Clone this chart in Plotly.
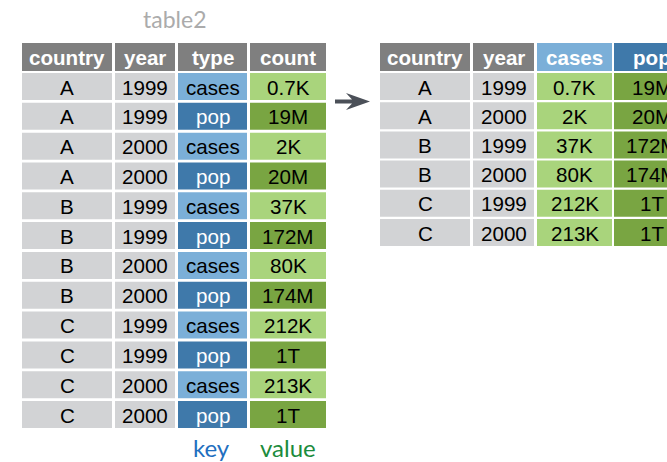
import plotly.graph_objects as go

# ---- data ----
left_headers = ["country", "year", "type", "count"]
left_country = ["A", "A", "A", "A", "B", "B", "B", "B", "C", "C", "C", "C"]
left_year = ["1999", "1999", "2000", "2000", "1999", "1999", "2000", "2000", "1999", "1999", "2000", "2000"]
left_type = ["cases", "pop", "cases", "pop", "cases", "pop", "cases", "pop", "cases", "pop", "cases", "pop"]
left_count = ["0.7K", "19M", "2K", "20M", "37K", "172M", "80K", "174M", "212K", "1T", "213K", "1T"]

right_headers = ["country", "year", "cases", "pop"]
right_country = ["A", "A", "B", "B", "C", "C"]
right_year = ["1999", "2000", "1999", "2000", "1999", "2000"]
right_cases = ["0.7K", "2K", "37K", "80K", "212K", "213K"]
right_pop = ["19M", "20M", "172M", "174M", "1T", "1T"]

# ---- style / layout ----
W, H = 667, 462
GRAY_HDR = "#7f7f7f"
GRAY_CELL = "#d2d3d5"
BLUE_L = "#7bafd8"
BLUE_D = "#3f79aa"
GREEN_L = "#a9d47c"
GREEN_D = "#79a542"
CELL_FONT = "Liberation Sans, Arial, sans-serif"
FS = 20.6

left_cols = [(22, 112), (115, 175), (178, 247), (250, 326)]
right_cols = [(380, 470), (473, 534), (537, 612), (614, 690)]
TOP = 43
HDR_H = 28

shapes = []
annotations = []


def cell(x0, x1, y0, y1, fill, text, color="black", bold=False):
    shapes.append(dict(type="rect", xref="x", yref="y", x0=x0, x1=x1, y0=y0, y1=y1,
                       fillcolor=fill, line=dict(width=0), layer="below"))
    annotations.append(dict(x=(x0 + x1) / 2, y=(y0 + y1) / 2 + 0.5, xref="x", yref="y",
                            text=f"<b>{text}</b>" if bold else text, showarrow=False,
                            font=dict(family=CELL_FONT, size=FS, color=color),
                            xanchor="center", yanchor="middle"))


def table(cols, headers, hdr_fills, columns, fills_fn, colors_fn, pitch, cell_h):
    for j, (x0, x1) in enumerate(cols):
        cell(x0, x1, TOP, TOP + HDR_H, hdr_fills[j], headers[j], "white", True)
    nrows = len(columns[0])
    for i in range(nrows):
        y0 = TOP + 30 + i * pitch
        for j, (x0, x1) in enumerate(cols):
            cell(x0, x1, y0, y0 + cell_h, fills_fn(i, j), columns[j][i], colors_fn(i, j))


def left_fill(i, j):
    if j < 2:
        return GRAY_CELL
    pop = left_type[i] == "pop"
    if j == 2:
        return BLUE_D if pop else BLUE_L
    return GREEN_D if pop else GREEN_L


def left_color(i, j):
    return "white" if (j == 2 and left_type[i] == "pop") else "black"


table(left_cols, left_headers, [GRAY_HDR, GRAY_HDR, GRAY_HDR, GRAY_HDR],
      [left_country, left_year, left_type, left_count], left_fill, left_color, 29.82, 27)


def right_fill(i, j):
    return [GRAY_CELL, GRAY_CELL, GREEN_L, GREEN_D][j]


table(right_cols, right_headers, [GRAY_HDR, GRAY_HDR, BLUE_L, BLUE_D],
      [right_country, right_year, right_cases, right_pop], right_fill,
      lambda i, j: "black", 29.2, 27)

# arrow
shapes.append(dict(type="path", xref="x", yref="y",
                   path="M335,99.5 L352,99.5 L346,93 L370,101.5 L346,110 L352,103.5 L335,103.5 Z",
                   fillcolor="#4b5058", line=dict(width=0)))

LABEL_FONT = "Lato, Open Sans, sans-serif"
annotations.append(dict(x=174, y=19, xref="x", yref="y", text="table2", showarrow=False,
                        font=dict(family=LABEL_FONT, size=23, color="#ababab"),
                        xanchor="center", yanchor="middle"))
annotations.append(dict(x=211, y=447, xref="x", yref="y", text="key", showarrow=False,
                        font=dict(family=LABEL_FONT, size=24, color="#1f6fc0"),
                        xanchor="center", yanchor="middle"))
annotations.append(dict(x=288, y=447, xref="x", yref="y", text="value", showarrow=False,
                        font=dict(family=LABEL_FONT, size=24, color="#1b8b3c"),
                        xanchor="center", yanchor="middle"))

fig = go.Figure()
fig.add_trace(go.Scatter(x=[0, W], y=[0, H], mode="markers", marker=dict(opacity=0),
                         hoverinfo="skip", showlegend=False))
fig.update_layout(
    width=W, height=H, margin=dict(l=0, r=0, t=0, b=0),
    paper_bgcolor="white", plot_bgcolor="white",
    xaxis=dict(range=[0, W], visible=False, fixedrange=True),
    yaxis=dict(range=[H, 0], visible=False, fixedrange=True),
    shapes=shapes, annotations=annotations, showlegend=False,
)
fig.write_html(
    "out.html",
    config={"displayModeBar": False},
    post_script="document.body.style.margin='0';document.body.style.overflow='hidden';",
)
